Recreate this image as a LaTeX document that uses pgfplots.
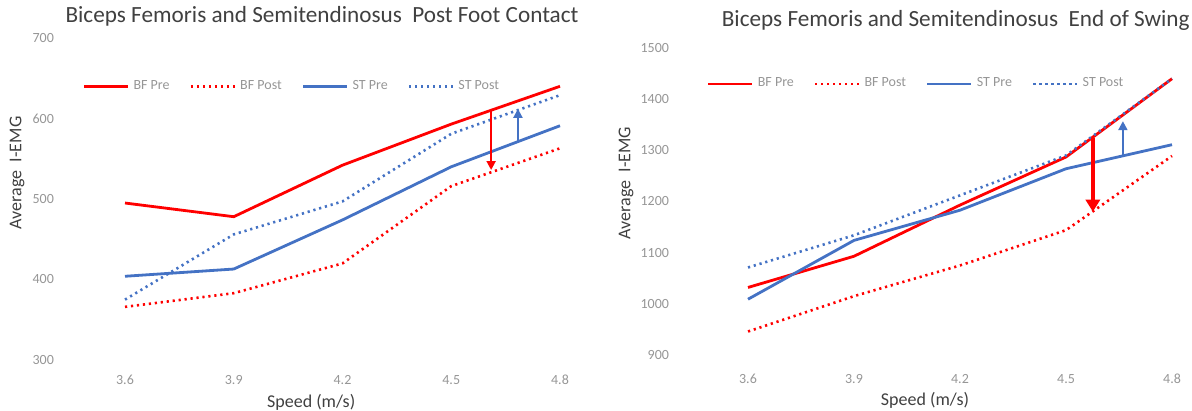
\documentclass[border=0pt]{standalone}
\usepackage{pgfplots}
\pgfplotsset{compat=1.18}
\usetikzlibrary{arrows.meta}
\usepackage{fontspec}
\setmainfont{Carlito}
\definecolor{bfred}{RGB}{255,0,0}
\definecolor{stblue}{RGB}{68,114,196}
\definecolor{tickgray}{RGB}{150,150,150}
\definecolor{labgray}{RGB}{64,64,64}
\pgfplotsset{
  mystyle/.style={
    scale only axis, clip=false,
    axis line style={draw=none}, tick style={draw=none},
    xmin=3.6, xmax=4.8,
    xtick={3.6,3.9,4.2,4.5,4.8},
    xticklabels={3.6,3.9,4.2,4.5,4.8},
    /pgf/number format/assume math mode=true,
    tick label style={font=\fontsize{7}{8}\selectfont, text=tickgray},
    label style={font=\fontsize{9}{10}\selectfont, text=labgray},
    title style={font=\fontsize{11.6}{13}\selectfont, text=labgray},
    legend style={draw=none, fill=none, font=\fontsize{7}{8}\selectfont, text=tickgray, legend columns=4,
      /tikz/every even column/.append style={column sep=8pt}},
    legend image code/.code={\draw[#1] (0pt,0pt) -- (22pt,0pt);},
  },
  pre/.style={line width=1.4pt},
  post/.style={line width=1.3pt, dash pattern=on 1.1pt off 1.9pt},
}
\begin{document}
\begin{tikzpicture}
\useasboundingbox (0,0) rectangle (596pt,205.5pt);
% Left chart
\begin{axis}[mystyle,
  at={(62.5pt,25.5pt)}, anchor=south west,
  width=217.5pt, height=161pt,
  ymin=300, ymax=700, ytick={300,400,500,600,700},
  yticklabels={300,400,500,600,700},
  yticklabel style={anchor=east, xshift=-32pt},
  xticklabel style={yshift=-4pt},
  xlabel={Speed (m/s)},
  xlabel style={at={(axis description cs:0.428,0)}, anchor=center, yshift=-21pt},
  ylabel={Average\ \ I-EMG},
  ylabel style={at={(axis description cs:0,0.581)}, anchor=center, yshift=54pt},
  title={Biceps Femoris and Semitendinosus\ \ Post Foot Contact},
  title style={at={(axis description cs:0.453,1)}, anchor=center, yshift=5pt},
  legend style={at={(0.386,0.85)}, anchor=center},
]
\addplot[pre, bfred] coordinates {(3.6,495) (3.9,478) (4.2,542) (4.5,593) (4.8,640)};
\addlegendentry{BF Pre}
\addplot[post, bfred] coordinates {(3.6,366) (3.9,383) (4.2,420) (4.5,516) (4.8,563)};
\addlegendentry{BF Post}
\addplot[pre, stblue] coordinates {(3.6,404) (3.9,413) (4.2,474) (4.5,540) (4.8,591)};
\addlegendentry{ST Pre}
\addplot[post, stblue] coordinates {(3.6,375) (3.9,456) (4.2,497) (4.5,581) (4.8,629)};
\addlegendentry{ST Post}
\addplot[forget plot, bfred, line width=1pt, -{Triangle[width=4.5pt,length=4.5pt]}] coordinates {(4.61,610) (4.61,536)};
\addplot[forget plot, stblue, line width=1pt, -{Triangle[width=4.5pt,length=4.5pt]}] coordinates {(4.684,572) (4.684,612)};
\end{axis}
% Right chart
\begin{axis}[mystyle,
  at={(374pt,28pt)}, anchor=south west,
  width=212pt, height=153.5pt,
  ymin=900, ymax=1500, ytick={900,1000,1100,1200,1300,1400,1500},
  yticklabels={900,1000,1100,1200,1300,1400,1500},
  yticklabel style={anchor=east, xshift=-36pt},
  xticklabel style={yshift=-6pt},
  xlabel={Speed (m/s)},
  xlabel style={at={(axis description cs:0.4175,0)}, anchor=center, yshift=-22.5pt},
  ylabel={Average\ \ I-EMG},
  ylabel style={at={(axis description cs:0,0.56)}, anchor=center, yshift=61pt},
  title={Biceps Femoris and Semitendinosus\ \ End of Swing},
  title style={at={(axis description cs:0.49,1)}, anchor=center, yshift=8pt},
  legend style={at={(0.399,0.883)}, anchor=center},
]
\addplot[pre, bfred] coordinates {(3.6,1032) (3.9,1093) (4.2,1193) (4.5,1287) (4.8,1440)};
\addlegendentry{BF Pre}
\addplot[post, bfred] coordinates {(3.6,946) (3.9,1015) (4.2,1075) (4.5,1144) (4.8,1289)};
\addlegendentry{BF Post}
\addplot[pre, stblue] coordinates {(3.6,1009) (3.9,1124) (4.2,1183) (4.5,1264) (4.8,1311)};
\addlegendentry{ST Pre}
\addplot[post, stblue] coordinates {(3.6,1071) (3.9,1134) (4.2,1212) (4.5,1290) (4.8,1440)};
\addlegendentry{ST Post}
\addplot[forget plot, bfred, line width=2pt, -{Triangle[width=7pt,length=6pt]}] coordinates {(4.576,1324) (4.576,1180)};
\addplot[forget plot, stblue, line width=1pt, -{Triangle[width=4.5pt,length=4.5pt]}] coordinates {(4.661,1287) (4.661,1357)};
\end{axis}
\end{tikzpicture}
\end{document}
